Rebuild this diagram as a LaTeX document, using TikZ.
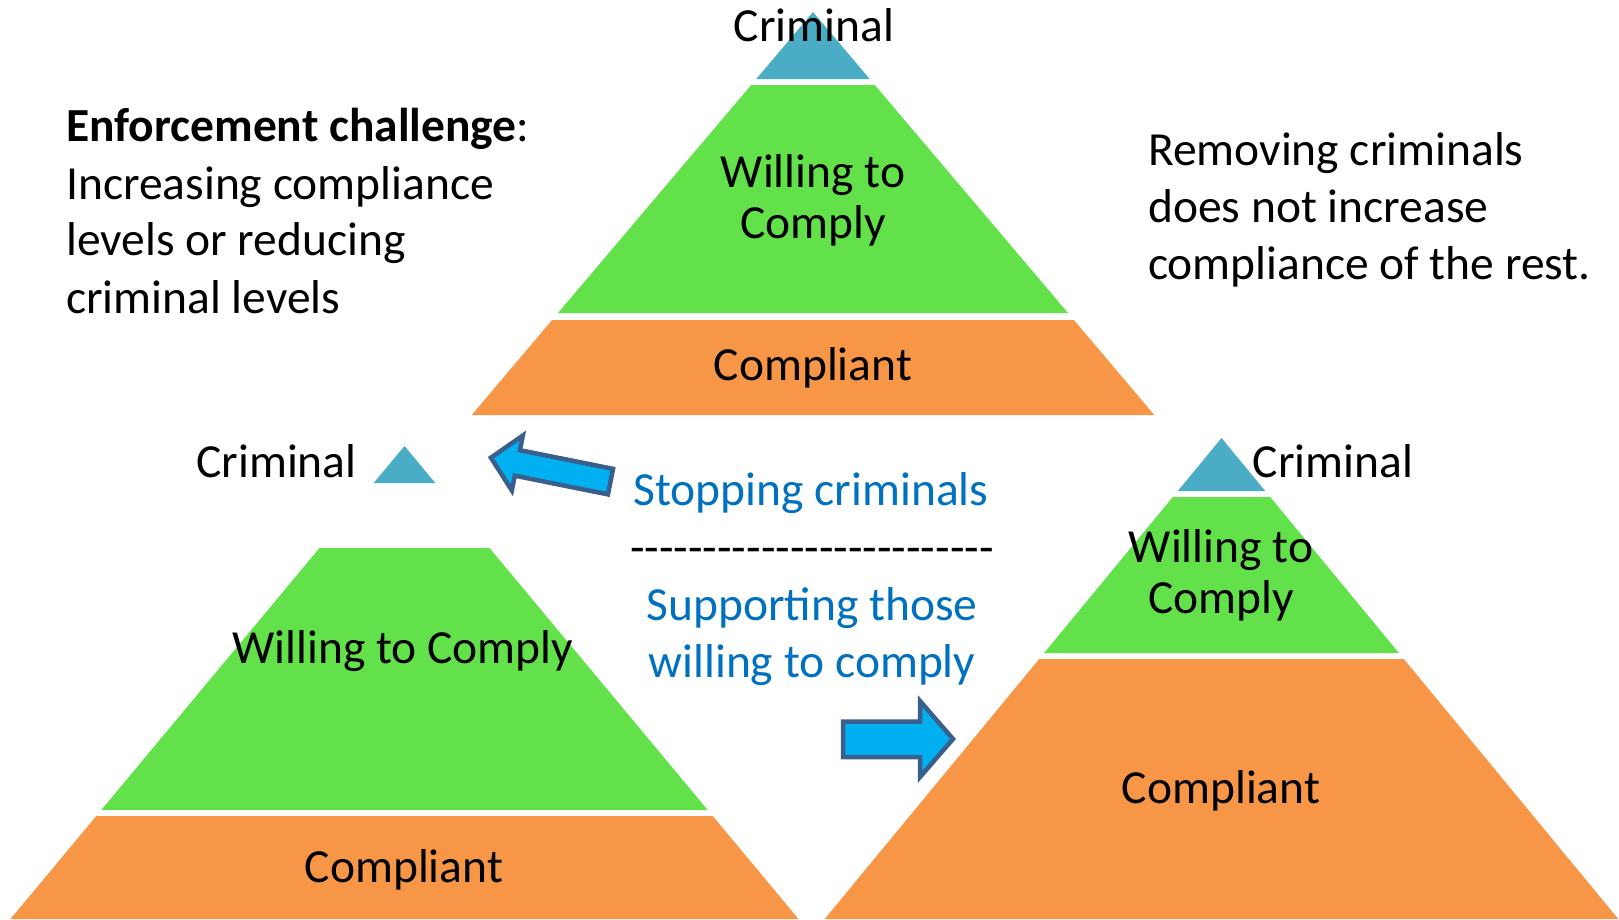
\documentclass[tikz,border=0pt]{standalone}
\usepackage{fontspec}
\setmainfont{Carlito}
\definecolor{crimcol}{HTML}{4BACC6}
\definecolor{willcol}{HTML}{62E14A}
\definecolor{compcol}{HTML}{F79646}
\definecolor{txtblue}{HTML}{0070C0}
\definecolor{arrfill}{HTML}{00B0F0}
\definecolor{arrline}{HTML}{3A5F8C}
\newcommand{\dsh}{-\kern0pt}
\begin{document}
\begin{tikzpicture}[x=1pt,y=-1pt,
  lbl/.style={inner sep=0pt, anchor=base, font=\fontsize{47.5}{57}\selectfont},
  lblw/.style={lbl, anchor=base west},
  bluetxt/.style={lbl, text=txtblue},
  blockarrow/.style={fill=arrfill, draw=arrline, line width=4.5pt, line join=miter}]
\useasboundingbox (0,0) rectangle (1619,919);
\fill[white] (0,0) rectangle (1619,919);

% ---- top pyramid ----
\fill[crimcol] (813,12) -- (756.3,79) -- (869.7,79) -- cycle;
\fill[willcol] (751.2,85) -- (874.8,85) -- (1068,313) -- (558,313) -- cycle;
\fill[compcol] (552.1,320) -- (1073.9,320) -- (1154.3,415) -- (471.7,415) -- cycle;
\node[lbl] (tcrim) at (814,41) {Criminal};
\node[lbl] (twill1) at (813,187) {Willing to};
\node[lbl] (twill2) at (813,238) {Comply};
\node[lbl] (tcomp) at (813,380) {Compliant};

% ---- left pyramid ----
\fill[crimcol] (404.5,446) -- (373.7,483) -- (435.3,483) -- cycle;
\fill[willcol] (319.5,548) -- (489.5,548) -- (707.7,810) -- (101.3,810) -- cycle;
\fill[compcol] (96.3,816) -- (712.7,816) -- (798.5,919) -- (10.5,919) -- cycle;
\node[lbl] (lcrim) at (276.5,477) {Criminal};
\node[lbl] (lwill) at (403,663) {Willing to Comply};
\node[lbl] (lcomp) at (404,882) {Compliant};

% ---- right pyramid ----
\fill[crimcol] (1221.5,438) -- (1177.8,491) -- (1265.2,491) -- cycle;
\fill[willcol] (1172.8,497) -- (1270.2,497) -- (1398.9,653) -- (1044.1,653) -- cycle;
\fill[compcol] (1039.2,659) -- (1403.8,659) -- (1618.3,919) -- (824.7,919) -- cycle;
\node[lbl] (rcrim) at (1333,477) {Criminal};
\node[lbl] (rwill1) at (1221,562) {Willing to};
\node[lbl] (rwill2) at (1221,613) {Comply};
\node[lbl] (rcomp) at (1221,803) {Compliant};

% ---- side texts ----
\node[lblw] (ec1) at (66,141.5) {\textbf{Enforcement challenge}:};
\node[lblw] (ec2) at (66,199.5) {Increasing compliance};
\node[lblw] (ec3) at (66,255.5) {levels or reducing};
\node[lblw] (ec4) at (66,313.5) {criminal levels};

\node[lblw] (rm1) at (1148,165) {Removing criminals};
\node[lblw] (rm2) at (1148,222) {does not increase};
\node[lblw] (rm3) at (1148,279) {compliance of the rest.};

% ---- middle texts ----
\node[bluetxt] (stop) at (811,505) {Stopping criminals};
\node[lbl] (dashes) at (812,563) {\dsh\dsh\dsh\dsh\dsh\dsh\dsh\dsh\dsh\dsh\dsh\dsh\dsh\dsh\dsh\dsh\dsh\dsh\dsh\dsh\dsh\dsh\dsh\dsh\dsh};
\node[bluetxt] (sup1) at (812,620) {Supporting those};
\node[bluetxt] (sup2) at (812,677) {willing to comply};

% ---- block arrows ----
\draw[blockarrow] (613.05,468.85) -- (519.9,450.2) -- (522.84,435.5) -- (490.9,457.7)
  -- (511.86,490.4) -- (514.8,475.7) -- (607.95,494.35) -- cycle;
\draw[blockarrow] (843,721.5) -- (920,721.5) -- (920,701) -- (953,739)
  -- (920,777) -- (920,757) -- (843,757) -- cycle;
\end{tikzpicture}
\end{document}
